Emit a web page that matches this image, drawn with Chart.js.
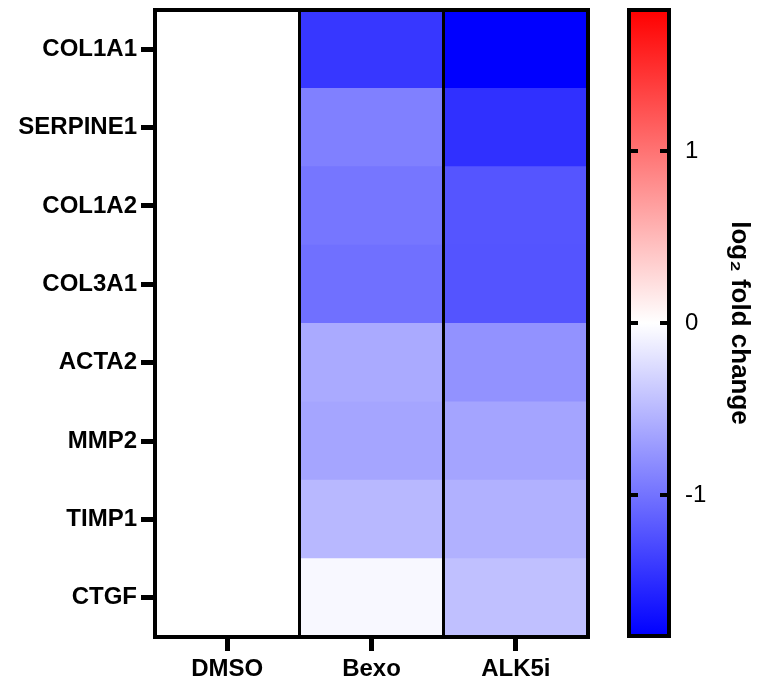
<!DOCTYPE html>
<html>
<head>
<meta charset="utf-8">
<script src="https://cdn.jsdelivr.net/npm/chart.js@4"></script>
<style>
  html, body { margin: 0; padding: 0; background: #fff; }
  #wrap { position: relative; width: 759px; height: 683px; overflow: hidden; }
  #heat { position: absolute; left: 0; top: 0; }
  #bar  { position: absolute; left: 600px; top: 0; }
</style>
</head>
<body>
<div id="wrap">
  <canvas id="heat" width="610" height="683"></canvas>
  <canvas id="bar" width="159" height="683"></canvas>
</div>
<script>
// ---- data ----
const genes      = ['COL1A1', 'SERPINE1', 'COL1A2', 'COL3A1', 'ACTA2', 'MMP2', 'TIMP1', 'CTGF'];
const conditions = ['DMSO', 'Bexo', 'ALK5i'];
const dmso   = [0, 0, 0, 0, 0, 0, 0, 0];
const bexo   = [-1.43, -0.91, -0.98, -1.02, -0.61, -0.64, -0.51, -0.05];
const alk5i  = [-1.82, -1.48, -1.21, -1.22, -0.78, -0.65, -0.56, -0.45];
const scaleTicks = [-1, 0, 1];
const scaleMin = -1.82;
const scaleMax = 1.82;

const values = [dmso, bexo, alk5i];

Chart.defaults.font.family = "'Liberation Sans', Arial, sans-serif";
Chart.defaults.color = '#000';

// blue - white - red
function colorFor(v) {
  const t = Math.max(-1, Math.min(1, v / scaleMax));
  const k = Math.round(255 * (1 - Math.abs(t)));
  return t < 0 ? `rgb(${k},${k},255)` : `rgb(255,${k},${k})`;
}

// drop the extra room Chart.js keeps for overhanging labels
function noPad(s) {
  s.paddingTop = 0; s.paddingBottom = 0;
  s.paddingLeft = 0; s.paddingRight = 0;
}

const framePlugin = {
  id: 'frame',
  afterDatasetsDraw(chart) {
    const { ctx, chartArea: a } = chart;
    ctx.save();
    ctx.lineWidth = 4;
    ctx.strokeStyle = '#000';
    ctx.strokeRect(a.left, a.top, a.right - a.left, a.bottom - a.top);
    ctx.restore();
  }
};

// x ticks: column centres get a label + tick mark, column edges get a separator line
const colTicks = [];
conditions.forEach((c, i) => {
  if (i > 0) colTicks.push({ value: i, edge: true });
  colTicks.push({ value: i + 0.5, label: c });
});

// ---- heatmap ----
new Chart(document.getElementById('heat'), {
  type: 'bar',
  data: {
    labels: genes,
    datasets: conditions.map((c, ci) => ({
      label: c,
      data: genes.map(() => [ci, ci + 1]),
      backgroundColor: values[ci].map(colorFor),
      borderWidth: 0,
      inflateAmount: 0.5,
      grouped: false,
      barPercentage: 1,
      categoryPercentage: 1
    }))
  },
  options: {
    indexAxis: 'y',
    responsive: false,
    animation: false,
    layout: { padding: { left: 0, right: 22, top: 10, bottom: 0 } },
    plugins: { legend: { display: false }, tooltip: { enabled: false } },
    scales: {
      x: {
        type: 'linear', min: 0, max: 3,
        afterBuildTicks: s => { s.ticks = colTicks.map(t => ({ value: t.value })); },
        afterFit: s => { s.height = 46; noPad(s); },
        border: { display: false },
        grid: {
          z: 1,
          tickLength: 14,
          lineWidth: 3,
          tickWidth: 5,
          color: c => (c.tick && Number.isInteger(c.tick.value)) ? '#000' : 'rgba(0,0,0,0)',
          tickColor: c => (c.tick && Number.isInteger(c.tick.value)) ? 'rgba(0,0,0,0)' : '#000'
        },
        ticks: {
          callback: (v, i) => colTicks[i].label || '',
          font: { size: 24, weight: 'bold' },
          padding: 4, maxRotation: 0, autoSkip: false
        }
      },
      y: {
        afterFit: s => { s.width = 155; noPad(s); },
        border: { display: false },
        grid: { offset: false, drawOnChartArea: false, tickLength: 14, lineWidth: 5, color: '#000' },
        ticks: { font: { size: 24, weight: 'bold' }, padding: 4, autoSkip: false }
      }
    }
  },
  plugins: [framePlugin]
});

// ---- colour scale ----
new Chart(document.getElementById('bar'), {
  type: 'bar',
  data: {
    labels: ['scale'],
    datasets: [{
      data: [[scaleMin, scaleMax]],
      backgroundColor: c => {
        const chart = c.chart;
        if (!chart.chartArea) return '#fff';
        const y = chart.scales.y;
        const g = chart.ctx.createLinearGradient(0, y.getPixelForValue(scaleMin), 0, y.getPixelForValue(scaleMax));
        g.addColorStop(0, colorFor(scaleMin));
        g.addColorStop(0.5, colorFor(0));
        g.addColorStop(1, colorFor(scaleMax));
        return g;
      },
      borderWidth: 0,
      barPercentage: 1,
      categoryPercentage: 1
    }]
  },
  options: {
    responsive: false,
    animation: false,
    layout: { padding: { left: 29, right: 0, top: 10, bottom: 47 } },
    plugins: { legend: { display: false }, tooltip: { enabled: false } },
    scales: {
      x: { display: false },
      y: {
        position: 'right',
        min: scaleMin, max: scaleMax,
        afterBuildTicks: s => { s.ticks = scaleTicks.map(v => ({ value: v })); },
        afterFit: s => { s.width = 90; noPad(s); },
        border: { display: false, dash: [9, 22] },
        grid: { drawTicks: false, color: '#000', lineWidth: 4, z: 1 },
        ticks: { font: { size: 24 }, padding: 16 },
        title: {
          display: true,
          text: 'log\u2082 fold change',
          font: { size: 26, weight: 'bold' },
          padding: 4
        }
      }
    }
  },
  plugins: [framePlugin]
});
</script>
</body>
</html>
